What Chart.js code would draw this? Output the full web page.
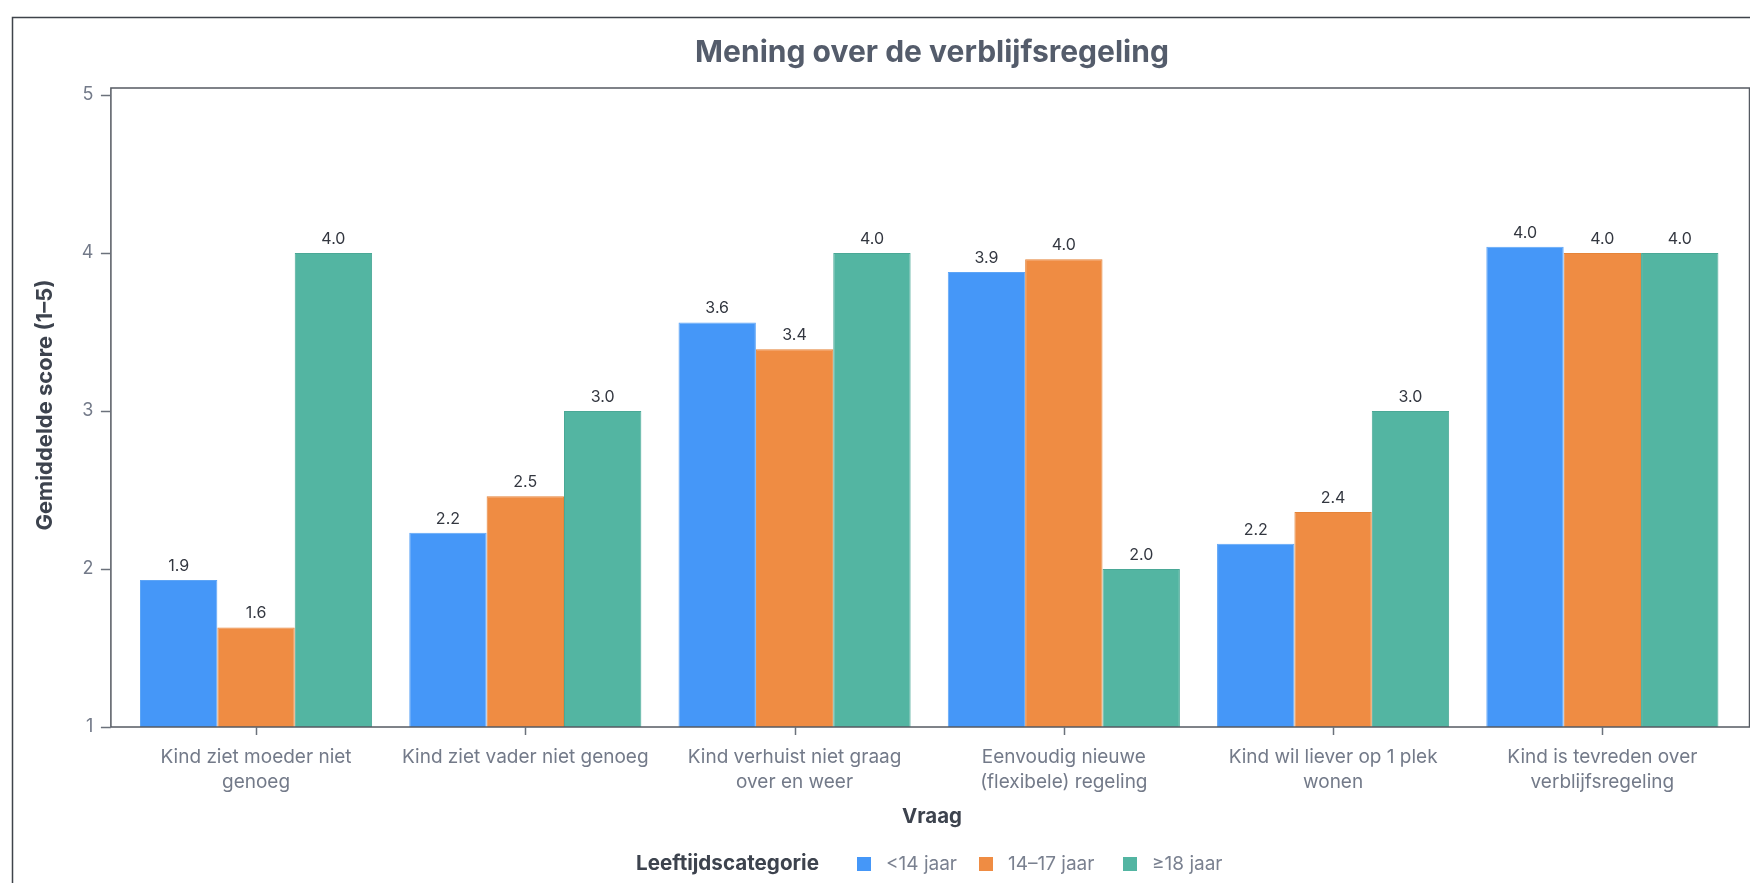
<!DOCTYPE html>
<html>
<head>
<meta charset="utf-8">
<script src="https://cdn.jsdelivr.net/npm/chart.js@4/dist/chart.umd.min.js"></script>
<style>
  html, body { margin: 0; padding: 0; background: #ffffff; }
  #wrap { position: relative; width: 1750px; height: 883px; }
</style>
</head>
<body>
<div id="wrap"><canvas id="c" width="1750" height="883"></canvas></div>
<script>
// ---- Data ----
const categories = [
  ["Kind ziet moeder niet", "genoeg"],
  ["Kind ziet vader niet genoeg"],
  ["Kind verhuist niet graag", "over en weer"],
  ["Eenvoudig nieuwe", "(flexibele) regeling"],
  ["Kind wil liever op 1 plek", "wonen"],
  ["Kind is tevreden over", "verblijfsregeling"]
];
const seriesNames = ["<14 jaar", "14–17 jaar", "≥18 jaar"];
const under14 = [1.93, 2.23, 3.56, 3.88, 2.16, 4.04];
const age14to17 = [1.63, 2.46, 3.39, 3.96, 2.36, 4.00];
const over18 = [4.00, 3.00, 4.00, 2.00, 3.00, 4.00];
const yTicks = [1, 2, 3, 4, 5];

const chartTitle = "Mening over de verblijfsregeling";
const xTitle = "Vraag";
const yTitle = "Gemiddelde score (1–5)";
const legendTitle = "Leeftijdscategorie";

const colors = ["#4597f8", "#ef8c43", "#53b5a2"];
const borders = ["#5ea5f6", "#e58439", "#4aa896"];
const FONT = "Inter, Lato, sans-serif";

// size a font so that text takes the given width
function fitFont(ctx, text, weight, width, maxSize) {
  ctx.font = weight + " 20px " + FONT;
  const w = ctx.measureText(text).width;
  let s = 20 * width / w;
  if (maxSize && s > maxSize) s = maxSize;
  ctx.font = weight + " " + s.toFixed(2) + "px " + FONT;
}

const overlay = {
  id: "overlay",
  beforeDraw(chart) {
    const ctx = chart.ctx;
    ctx.save();
    ctx.fillStyle = "#ffffff";
    ctx.fillRect(0, 0, chart.width, chart.height);
    ctx.restore();
  },
  afterDatasetsDraw(chart) {
    const ctx = chart.ctx;
    const ca = chart.chartArea;
    const xs = chart.scales.x, ys = chart.scales.y;
    const boxL = ca.left - 10.5, boxR = ca.right + 12.5, boxT = ca.top, boxB = ca.bottom;
    ctx.save();
    // outer frame
    ctx.strokeStyle = "#3f434a";
    ctx.lineWidth = 1.5;
    ctx.strokeRect(12.5, 17.5, 1760, 900);
    // plot box
    ctx.strokeStyle = "#555a62";
    ctx.lineWidth = 1.5;
    ctx.strokeRect(boxL, boxT, boxR - boxL, boxB - boxT);
    // y tick marks
    ctx.strokeStyle = "#6b717b";
    ctx.lineWidth = 1.5;
    yTicks.forEach(v => {
      const y = Math.round(ys.getPixelForValue(v)) + 0.5;
      ctx.beginPath(); ctx.moveTo(boxL - 10, y); ctx.lineTo(boxL, y); ctx.stroke();
    });
    // x tick marks
    categories.forEach((c, i) => {
      const x = Math.round(xs.getPixelForValue(i)) + 0.5;
      ctx.beginPath(); ctx.moveTo(x, boxB); ctx.lineTo(x, boxB + 8); ctx.stroke();
    });
    // data labels
    ctx.fillStyle = "#333740";
    ctx.font = "16px " + FONT;
    ctx.textAlign = "center";
    ctx.textBaseline = "alphabetic";
    chart.data.datasets.forEach((ds, di) => {
      const meta = chart.getDatasetMeta(di);
      meta.data.forEach((bar, i) => {
        ctx.fillText(ds.data[i].toFixed(1), bar.x, bar.y - 9);
      });
    });
    // title
    ctx.fillStyle = "#545c6b";
    fitFont(ctx, chartTitle, "bold", 474);
    ctx.textBaseline = "middle";
    ctx.fillText(chartTitle, 932, 53);
    // x title
    ctx.fillStyle = "#3d434e";
    fitFont(ctx, xTitle, "bold", 60);
    ctx.fillText(xTitle, 932, 817);
    // y title
    ctx.save();
    ctx.translate(45, 405);
    ctx.rotate(-Math.PI / 2);
    fitFont(ctx, yTitle, "bold", 251);
    ctx.fillText(yTitle, 0, 0);
    ctx.restore();
    // legend
    ctx.textAlign = "left";
    ctx.fillStyle = "#3d434e";
    fitFont(ctx, legendTitle, "bold", 183);
    ctx.fillText(legendTitle, 636, 864);
    const swX = [857, 979, 1123];
    const txW = [72, 95, 72];
    chart.data.datasets.forEach((ds, di) => {
      ctx.fillStyle = ds.backgroundColor;
      ctx.fillRect(swX[di], 857, 14, 14);
      ctx.fillStyle = "#7a8190";
      fitFont(ctx, ds.label, "normal", txW[di], 19);
      ctx.fillText(ds.label, swX[di] + 29, 864);
    });
    ctx.restore();
  }
};

new Chart(document.getElementById("c"), {
  type: "bar",
  data: {
    labels: categories,
    datasets: [
      { label: seriesNames[0], data: under14, backgroundColor: colors[0], borderColor: borders[0], borderWidth: 1, base: 1 },
      { label: seriesNames[1], data: age14to17, backgroundColor: colors[1], borderColor: borders[1], borderWidth: 1, base: 1 },
      { label: seriesNames[2], data: over18, backgroundColor: colors[2], borderColor: borders[2], borderWidth: 1, base: 1 }
    ]
  },
  options: {
    responsive: false,
    animation: false,
    devicePixelRatio: 1,
    layout: { padding: { left: 0, right: 13, top: 88, bottom: 0 } },
    datasets: { bar: { categoryPercentage: 0.862, barPercentage: 1.0 } },
    plugins: {
      legend: { display: false },
      title: { display: false },
      tooltip: { enabled: false }
    },
    scales: {
      x: {
        grid: { display: false },
        border: { display: false },
        ticks: {
          color: "#737a89",
          font: { family: FONT, size: 19, lineHeight: 25 / 19 },
          padding: 10,
          maxRotation: 0,
          autoSkip: false
        },
        afterFit(scale) { scale.height = 156; }
      },
      y: {
        min: 1,
        max: 5.044,
        grid: { display: false },
        border: { display: false },
        afterBuildTicks(scale) { scale.ticks = yTicks.map(v => ({ value: v })); },
        ticks: {
          color: "#737a89",
          font: { family: FONT, size: 18 },
          padding: 20,
          callback: v => String(v)
        },
        afterFit(scale) { scale.width = 121.4; }
      }
    }
  },
  plugins: [overlay]
});
</script>
</body>
</html>
